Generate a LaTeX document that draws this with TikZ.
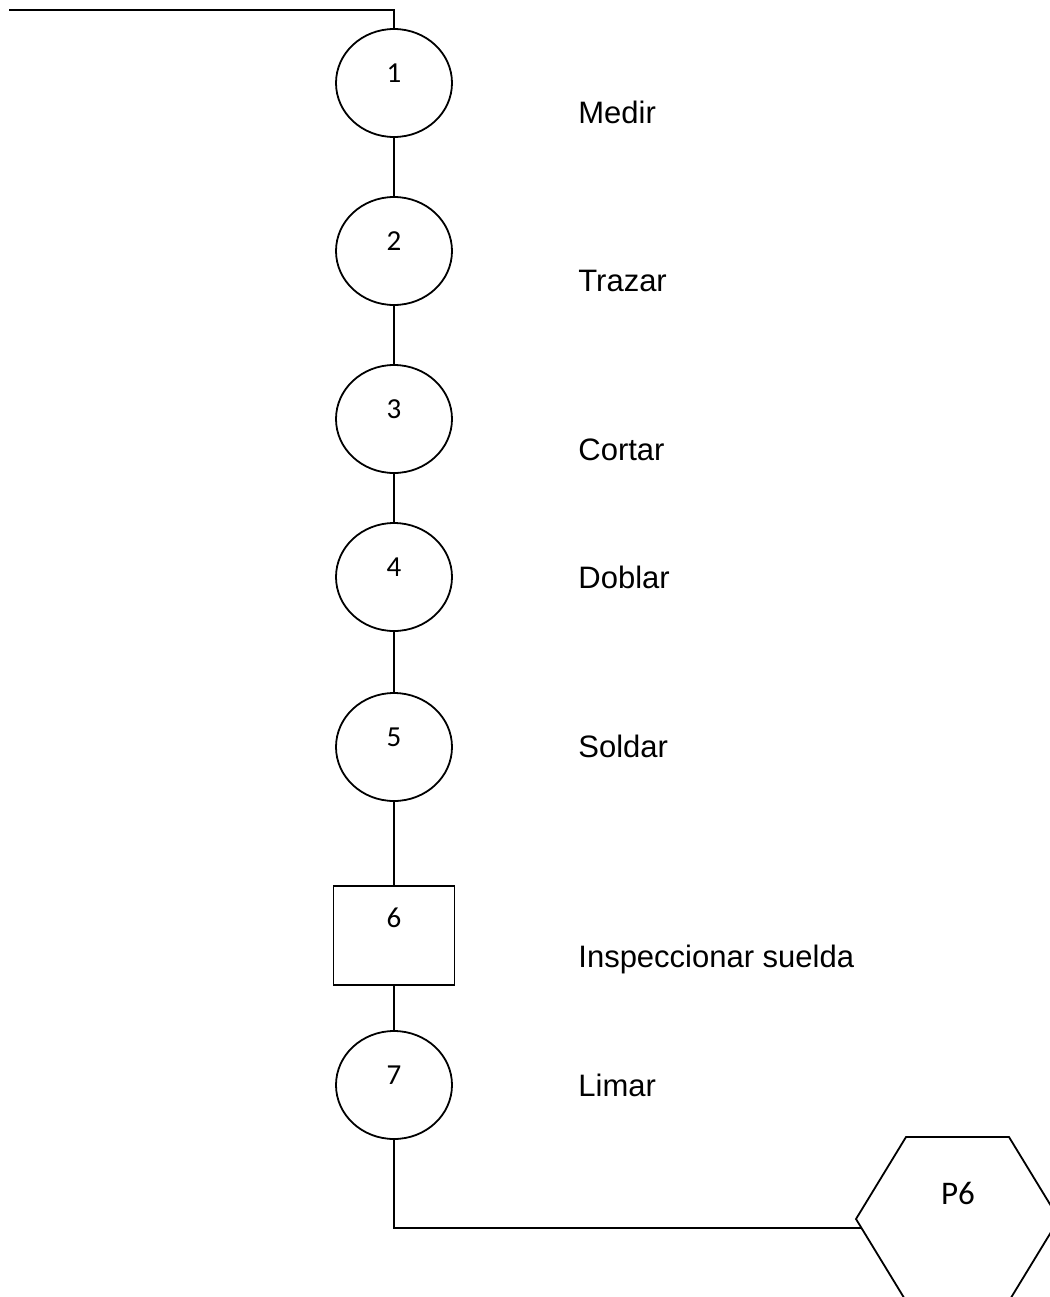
\documentclass[tikz,border=0pt]{standalone}
\usepackage{fontspec}
\setmainfont{Liberation Sans}
\newfontfamily\numfont{Carlito}
\usetikzlibrary{shapes.geometric,positioning}
\tikzset{
numero/.style={font=\numfont\fontsize{14.5}{16}\selectfont,inner sep=0pt},
paso/.style={ellipse,draw,line width=0.9pt,minimum width=58pt,minimum height=54pt,inner sep=0pt,label={[numero,yshift=5pt]center:#1}},
control/.style={rectangle,draw,line width=0.9pt,minimum width=60.5pt,minimum height=49.5pt,inner sep=0pt,label={[numero,yshift=9pt]center:#1}},
tarea/.style={anchor=west,font=\fontsize{15.5}{18}\selectfont,inner sep=0pt},
linea/.style={line width=0.9pt}
}
\begin{document}
\begin{tikzpicture}[x=0.5pt,y=-0.5pt]
\useasboundingbox (0,0) rectangle (1050,1297);
% pasos del proceso
\node[paso=1] (p1) at (394,83) {};
\node[paso=2] (p2) at (394,251) {};
\node[paso=3] (p3) at (394,419) {};
\node[paso=4] (p4) at (394,577) {};
\node[paso=5] (p5) at (394,747) {};
\node[control=6] (p6) at (394,935.5) {};
\node[paso=7] (p7) at (394,1085) {};
% etiquetas
\node[tarea] (t1) at (578,112) {Medir};
\node[tarea] (t2) at (578,281) {Trazar};
\node[tarea] (t3) at (578,450) {Cortar};
\node[tarea] (t4) at (578,577) {Doblar};
\node[tarea] (t5) at (578,746) {Soldar};
\node[tarea] (t6) at (578,959) {Inspeccionar suelda};
\node[tarea] (t7) at (578,1085) {Limar};
% hexagono de salida
\draw[linea] (856,1219) -- (906,1137) -- (1009,1137) -- (1059,1219) -- (1009,1301) -- (906,1301) -- cycle;
\node[numero,font=\numfont\fontsize{16.5}{18}\selectfont] (hex) at (958,1193) {P6};
\coordinate (inicio) at (9,10);
\coordinate (hexw) at (861,1228);
% conexiones
\draw[linea] (inicio) -| (p1);
\foreach \a/\b in {p1/p2,p2/p3,p3/p4,p4/p5,p5/p6,p6/p7}
  \draw[linea] (\a) -- (\b);
\draw[linea] (p7) |- (hexw);
\end{tikzpicture}
\end{document}
